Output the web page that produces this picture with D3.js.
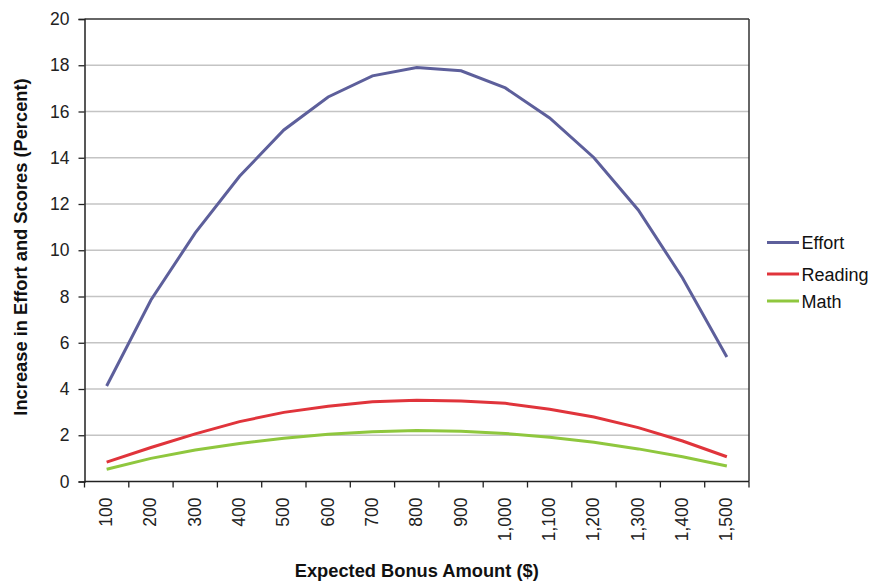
<!DOCTYPE html>
<html><head><meta charset="utf-8">
<script src="https://cdn.jsdelivr.net/npm/d3@7"></script>
<style>body{margin:0;background:#fff}svg{display:block;font-family:"Liberation Sans",Arial,sans-serif}</style>
</head><body><svg id="c" width="883" height="586"></svg>
<script>
const categories = ["100","200","300","400","500","600","700","800","900","1,000","1,100","1,200","1,300","1,400","1,500"];
const effort  = [4.13,7.85,10.75,13.2,15.2,16.63,17.54,17.9,17.76,17.02,15.72,14.0,11.74,8.8,5.38];
const reading = [0.84,1.47,2.06,2.59,2.99,3.25,3.45,3.51,3.48,3.38,3.12,2.79,2.33,1.75,1.07];
const math    = [0.53,1.0,1.36,1.64,1.87,2.04,2.15,2.2,2.17,2.08,1.91,1.70,1.41,1.07,0.67];
const yTicks  = [0,2,4,6,8,10,12,14,16,18,20];
const seriesNames = ["Effort","Reading","Math"];
const seriesColors = ["#5d5f9b","#e0343b","#8fc73e"];

const svg = d3.select("#c");
const L=84.5, R=749, T=19, B=481.5;
const x = d3.scaleBand().domain(categories).range([L,R]).padding(0);
const y = d3.scaleLinear().domain([0,20]).range([B,T]);

// gridlines
svg.append("g").selectAll("line").data(yTicks.filter(d=>d>0&&d<20)).join("line")
  .attr("x1",L).attr("x2",R).attr("y1",d=>y(d)).attr("y2",d=>y(d))
  .attr("stroke","#c4c4c4").attr("stroke-width",1.3);

// frame top & right
svg.append("line").attr("x1",L).attr("x2",R).attr("y1",T).attr("y2",T).attr("stroke","#333").attr("stroke-width",1.5);
svg.append("line").attr("x1",R).attr("x2",R).attr("y1",T).attr("y2",B).attr("stroke","#333").attr("stroke-width",1.5);

// y axis
const ya = svg.append("g").attr("transform",`translate(${L},0)`)
  .call(d3.axisLeft(y).tickValues(yTicks).tickSize(6).tickPadding(9).tickFormat(d3.format("d")));
ya.select(".domain").attr("stroke","#222").attr("stroke-width",1.5);
ya.selectAll(".tick line").attr("stroke","#222").attr("stroke-width",1.3);
ya.selectAll("text").attr("font-size",17.5).attr("fill","#222").attr("font-family","Liberation Sans, Arial, sans-serif");

// x axis ticks at band boundaries
const xa = svg.append("g").attr("transform",`translate(0,${B})`);
xa.append("line").attr("x1",L).attr("x2",R).attr("stroke","#222").attr("stroke-width",1.5);
const bounds = categories.map(c=>x(c)).concat([x(categories[categories.length-1])+x.bandwidth()]);
xa.selectAll("line.t").data(bounds).join("line").attr("class","t")
  .attr("x1",d=>d).attr("x2",d=>d).attr("y1",0).attr("y2",6).attr("stroke","#222").attr("stroke-width",1.3);
xa.selectAll("text").data(categories).join("text")
  .attr("transform",d=>`translate(${x(d)+x.bandwidth()/2+5.5},16) rotate(-90)`)
  .attr("text-anchor","end").attr("font-size",17.5).attr("fill","#222").text(d=>d);

// lines
const allSeries = [effort,reading,math];
const line = d3.line().x((d,i)=>x(categories[i])+x.bandwidth()/2).y(d=>y(d));
svg.append("g").selectAll("path").data(allSeries).join("path")
  .attr("d",line).attr("fill","none").attr("stroke",(d,i)=>seriesColors[i]).attr("stroke-width",3);

// legend
const lg = svg.append("g");
const legY = [242.5,274,301];
seriesNames.forEach((n,i)=>{
  lg.append("line").attr("x1",767).attr("x2",799).attr("y1",legY[i]).attr("y2",legY[i]).attr("stroke",seriesColors[i]).attr("stroke-width",3);
  lg.append("text").attr("x",801.5).attr("y",legY[i]+6.5).attr("font-size",18).attr("fill","#111").text(n);
});

// axis titles
svg.append("text").attr("x",(L+R)/2).attr("y",577).attr("text-anchor","middle")
  .attr("font-size",18.3).attr("font-weight","bold").attr("fill","#111").text("Expected Bonus Amount ($)");
svg.append("text").attr("transform",`translate(26.5,247) rotate(-90)`).attr("text-anchor","middle")
  .attr("font-size",18.3).attr("font-weight","bold").attr("fill","#111").text("Increase in Effort and Scores (Percent)");
</script></body></html>
